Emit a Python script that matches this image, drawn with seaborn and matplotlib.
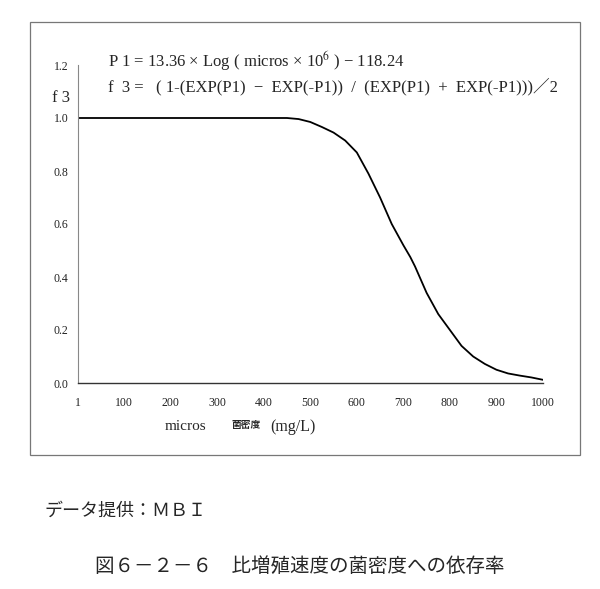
import numpy as np
import pandas as pd
import seaborn as sns
import matplotlib.pyplot as plt
from matplotlib.patches import Rectangle

# values
micros = [1, 100, 200, 300, 400, 450, 475, 500, 525, 550, 575, 600, 625, 650,
          675, 700, 715, 725, 750, 775, 800, 825, 850, 875, 900, 925, 950, 975, 1000]
f3 = [1.0, 1.0, 1.0, 1.0, 1.0, 1.0, 0.996, 0.985, 0.966, 0.945, 0.915, 0.87, 0.79, 0.70,
      0.60, 0.52, 0.475, 0.44, 0.34, 0.26, 0.20, 0.14, 0.10, 0.072, 0.05, 0.036, 0.028, 0.021, 0.012]
x_ticks = [1, 100, 200, 300, 400, 500, 600, 700, 800, 900, 1000]
y_ticks = [0.0, 0.2, 0.4, 0.6, 0.8, 1.0, 1.2]

df = pd.DataFrame({"micros": micros, "f3": f3})

sns.set_style("white")
plt.rcParams["font.family"] = ["Liberation Serif", "Noto Sans CJK JP", "DejaVu Sans"]
plt.rcParams["mathtext.fontset"] = "stix"
jp = ["Noto Sans CJK JP", "DejaVu Sans"]

fig = plt.figure(figsize=(6, 5.89), dpi=100)
ax = fig.add_axes([78 / 600, 1 - 383 / 589, (543 - 78) / 600, (383 - 65) / 589])

# outer frame of the scanned chart
fig.patches.append(Rectangle((30 / 600, 1 - 455 / 589), 550 / 600, 433 / 589,
                             transform=fig.transFigure, fill=False,
                             edgecolor="#777777", linewidth=0.9))

sns.lineplot(data=df, x="micros", y="f3", color="black", linewidth=1.3, ax=ax)

ax.set_xlim(1, 1000)
ax.set_ylim(0, 1.2)
ax.set_xticks(x_ticks)
ax.set_xticklabels([str(v) for v in x_ticks])
ax.set_yticks(y_ticks)
ax.set_yticklabels([f"{v:.1f}" for v in y_ticks])
ax.tick_params(axis="both", labelsize=8.5, direction="in", length=3, width=0.6, colors="#222222")
ax.tick_params(axis="x", pad=10)
ax.tick_params(axis="y", pad=7)
ax.set_xlabel("")
ax.set_ylabel("")
for side in ["top", "right"]:
    ax.spines[side].set_visible(False)
ax.spines["left"].set_color("#888888")
ax.spines["left"].set_linewidth(0.8)
ax.spines["bottom"].set_color("#333333")
ax.spines["bottom"].set_linewidth(1.0)
ax.patch.set_alpha(0)

# formula text and axis names
fig.text(108 / 600, 1 - 61 / 589, "P 1 = 13.36 × Log ( micros × 10$^{6}$ ) − 118.24",
         fontsize=12, va="center", ha="left")
fig.text(108 / 600, 1 - 87 / 589, "f  3 =   ( 1-(EXP(P1)  −  EXP(-P1))  /  (EXP(P1)  +  EXP(-P1)))／2",
         fontsize=12, va="center", ha="left")
fig.text(52 / 600, 1 - 98 / 589, "f 3", fontsize=12, va="center", ha="left")
fig.text(165 / 600, 1 - 427 / 589, "micros", fontsize=11, va="center", ha="left")
fig.text(231 / 600, 1 - 425 / 589, "菌密度", fontsize=7, va="center", ha="left",
         family=jp, fontweight="bold")
fig.text(270 / 600, 1 - 427 / 589, "(mg/L)", fontsize=11.5, va="center", ha="left")

# captions below the chart
fig.text(45 / 600, 1 - 511 / 589, "データ提供：ＭＢＩ", fontsize=13, va="center",
         ha="left", family=jp)
fig.text(300 / 600, 1 - 566 / 589, "図６－２－６　比増殖速度の菌密度への依存率",
         fontsize=14, va="center", ha="center", family=jp)

fig.savefig("out.png", dpi=100)
